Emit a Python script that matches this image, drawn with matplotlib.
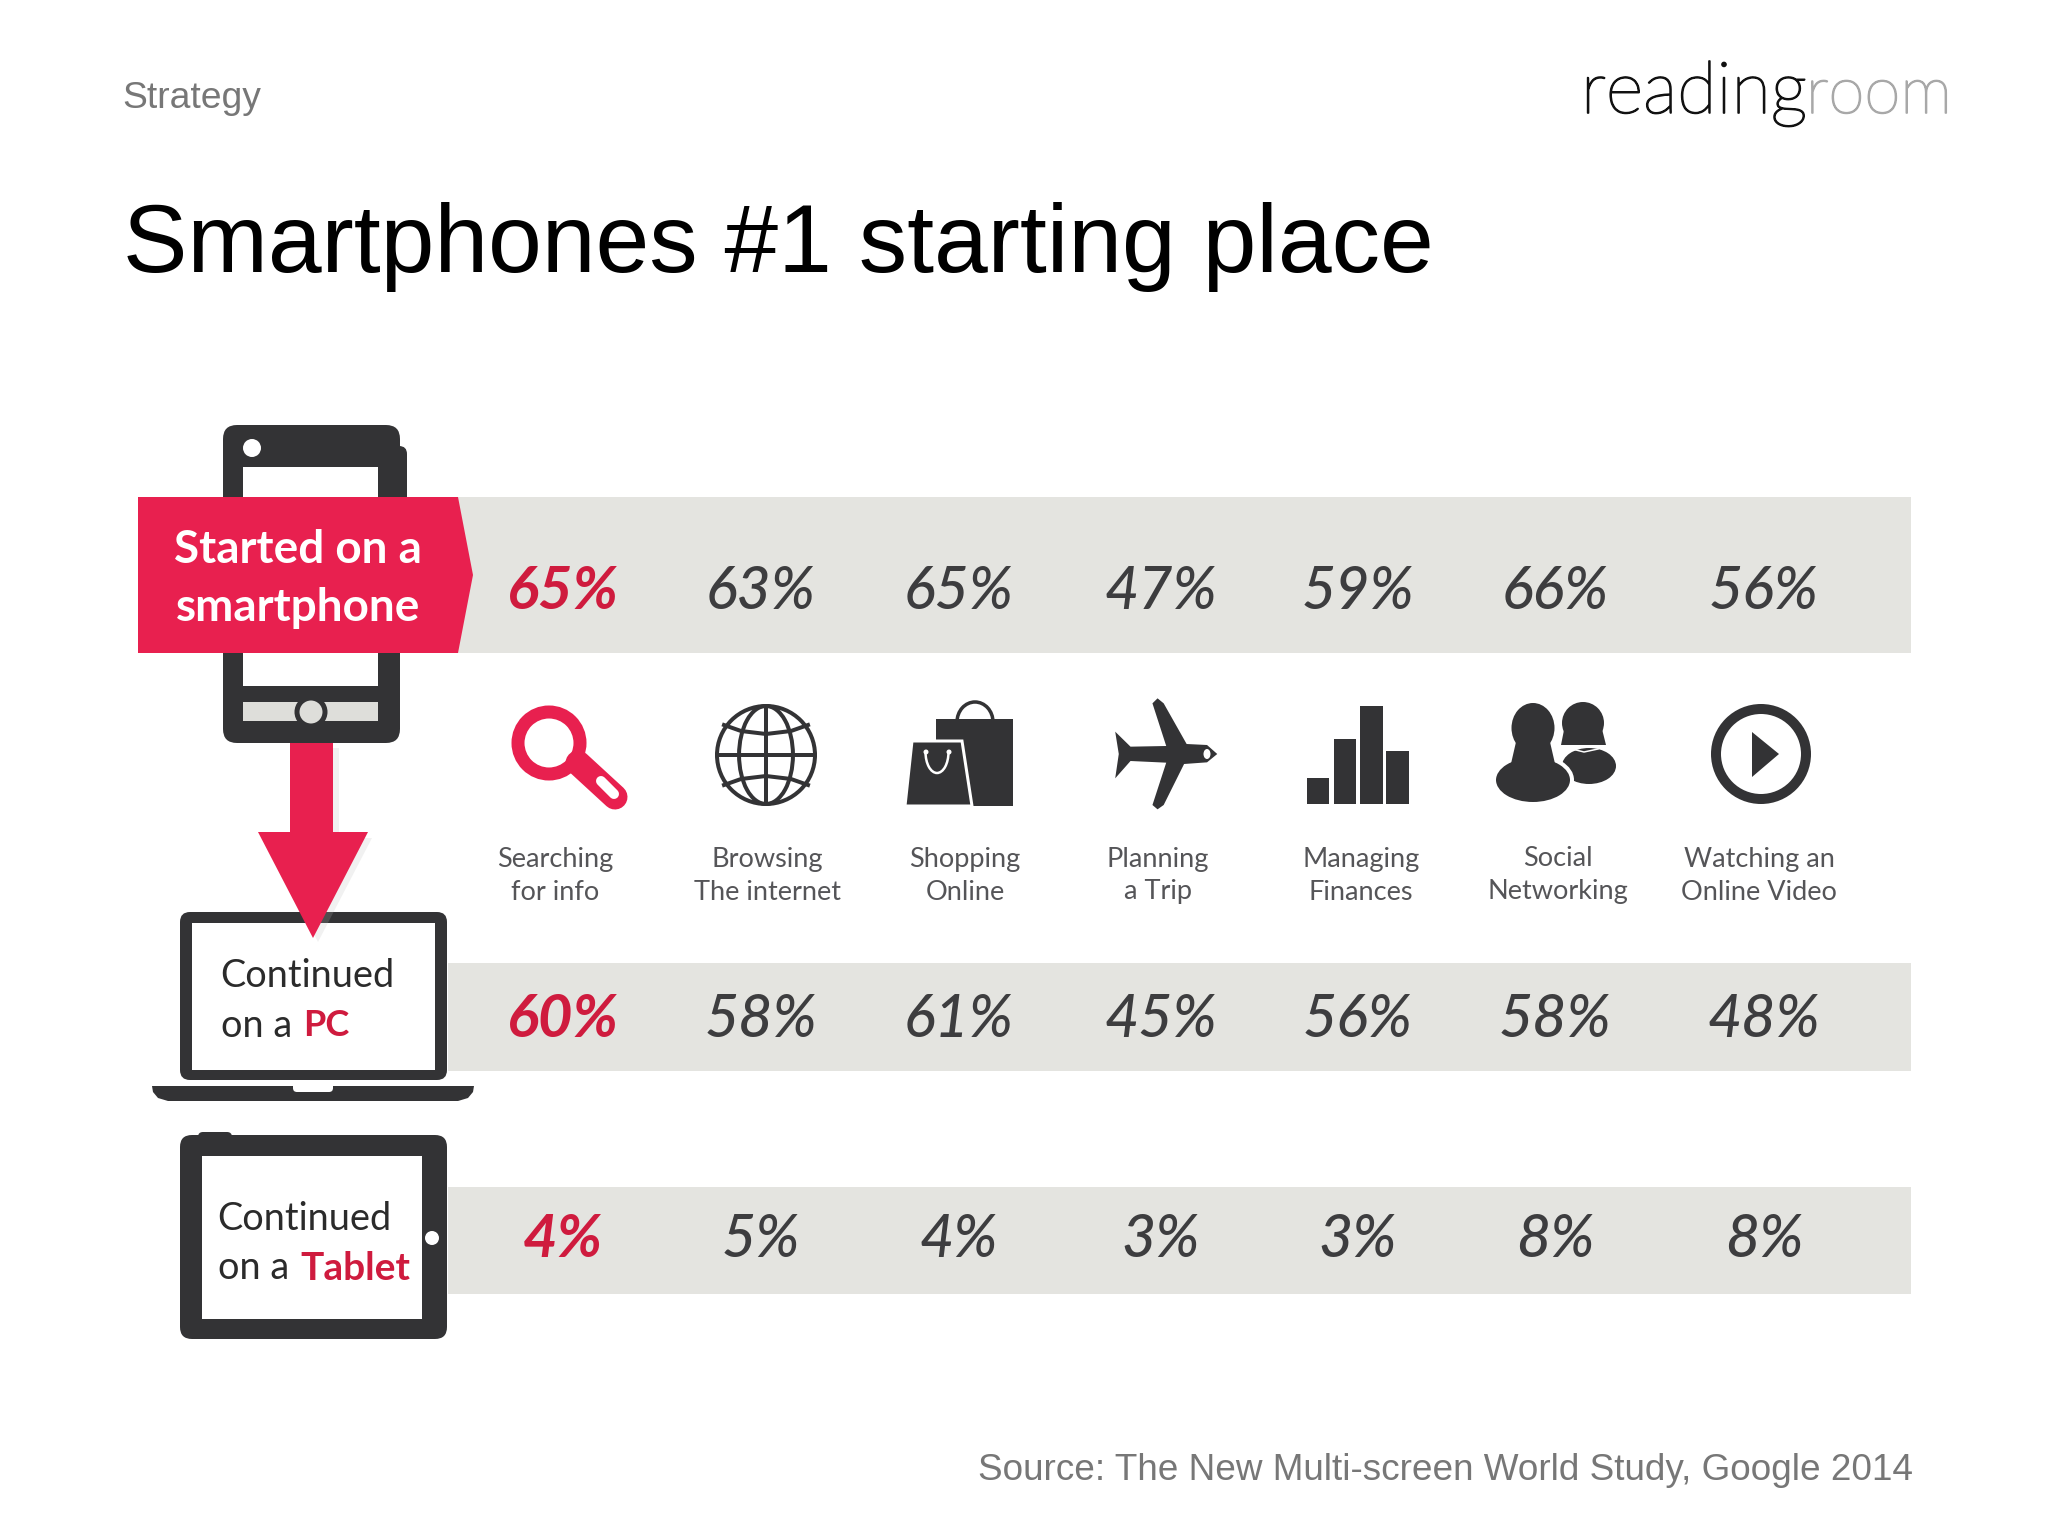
import matplotlib
matplotlib.use('Agg')
import matplotlib.pyplot as plt
import matplotlib.patheffects as pe
import numpy as np
from matplotlib.patches import Circle, Ellipse, Arc, Polygon, Rectangle, FancyBboxPatch

# values
activities = ['Searching\nfor info', 'Browsing\nThe internet', 'Shopping\nOnline', 'Planning\na Trip',
              'Managing\nFinances', 'Social\nNetworking', 'Watching an\nOnline Video']
smartphone = [65, 63, 65, 47, 59, 66, 56]
pc = [60, 58, 61, 45, 56, 58, 48]
tablet = [4, 5, 4, 3, 3, 8, 8]
bar_icon_heights = [26, 65, 98, 53]

value_x = [563, 761, 959, 1161, 1358, 1555, 1764]
label_x = [555, 767, 965, 1158, 1361, 1558, 1759]

DARK = '#333335'
RED = '#e8204f'
TEXT_RED = '#cf1b3e'
BAND = '#e4e4e0'
GREY = '#777777'

fig = plt.figure(figsize=(20.48, 15.36), dpi=100, facecolor='white')
ax = fig.add_axes([0, 0, 1, 1])
ax.set_xlim(0, 2048)
ax.set_ylim(1536, 0)
ax.axis('off')


def px(v):
    # sizes below are worked out in image pixels
    return v * 0.72


def rbox(x0, y0, x1, y1, r, color, z=2):
    ax.add_patch(FancyBboxPatch((x0 + r, y0 + r), x1 - x0 - 2 * r, y1 - y0 - 2 * r,
                                boxstyle='round,pad=%f' % r, fc=color, ec='none', zorder=z))


# header
ax.text(122, 98, 'Strategy', family='Liberation Sans', fontsize=26.8, color=GREY, va='center')
ax.text(123, 247, 'Smartphones #1 starting place', family='Liberation Sans', fontsize=69.6, color='black', va='center')
ax.text(1913, 1470, 'Source: The New Multi-screen World Study, Google 2014', family='Liberation Sans',
        fontsize=26.6, color=GREY, ha='right', va='center')
ax.text(1581, 113, 'reading', family='Lato', weight='light', fontsize=52, color='#111111', va='baseline',
        path_effects=[pe.withStroke(linewidth=1.2, foreground='#111111')])
ax.text(1806, 113, 'room', family='Lato', weight='light', fontsize=47, color='#a8a8a8', va='baseline',
        path_effects=[pe.withStroke(linewidth=1.2, foreground='#a8a8a8')])

# bands
ax.add_patch(Rectangle((450, 497), 1461, 156, fc=BAND, ec='none', zorder=1))
ax.add_patch(Rectangle((448, 963), 1463, 108, fc=BAND, ec='none', zorder=1))
ax.add_patch(Rectangle((448, 1187), 1463, 107, fc=BAND, ec='none', zorder=1))

# percentages
for row, y in [(smartphone, 592), (pc, 1020), (tablet, 1240)]:
    for i, (v, x) in enumerate(zip(row, value_x)):
        if i == 0:
            ax.text(x, y, '%d%%' % v, family='Lato', style='italic', weight='bold', fontsize=43,
                    color=TEXT_RED, ha='center', va='center', zorder=5)
        else:
            ax.text(x, y, '%d%%' % v, family='Lato', style='italic', weight='medium', fontsize=42.5,
                    color='#3d3d3f', ha='center', va='center', zorder=5)

# activity labels
for lab, x in zip(activities, label_x):
    a, b = lab.split('\n')
    ax.text(x, 859, a, family='Lato', fontsize=19.5, color='#555558', ha='center', va='center')
    ax.text(x, 892, b, family='Lato', fontsize=19.5, color='#555558', ha='center', va='center')

# phone
rbox(385, 446, 407, 520, 8, DARK)
rbox(223, 425, 400, 743, 14, DARK)
ax.add_patch(Rectangle((243, 467), 135, 219, fc='white', ec='none', zorder=3))
ax.add_patch(Circle((252, 448), 9, fc='white', ec='none', zorder=3))
ax.add_patch(Rectangle((243, 702), 135, 19, fc='#dededa', ec='none', zorder=3))
ax.add_patch(Circle((311, 712), 14, fc='#dededa', ec=DARK, lw=px(5), zorder=4))

# banner
ax.add_patch(Polygon([(138, 497), (458, 497), (473, 575), (458, 653), (138, 653)], fc=RED, ec='none', zorder=4))
ax.text(298, 550, 'Started on a', family='Lato', weight='bold', fontsize=33, color='white',
        ha='center', va='center', zorder=5)
ax.text(298, 608, 'smartphone', family='Lato', weight='bold', fontsize=33, color='white',
        ha='center', va='center', zorder=5)

# laptop
rbox(180, 912, 447, 1080, 10, DARK)
ax.add_patch(Rectangle((192, 923), 243, 147, fc='white', ec='none', zorder=3))
ax.add_patch(Polygon([(152, 1086), (474, 1086), (473, 1092), (468, 1098), (458, 1101), (168, 1101), (158, 1098),
                      (153, 1092)], fc=DARK, ec='none', zorder=2))
rbox(293, 1082, 333, 1092, 4, 'white', z=3)
ax.text(220, 976, 'Continued', family='Lato', fontsize=27.3, color='#2b2b2b', va='center', zorder=5)
ax.text(221, 1026, 'on a', family='Lato', fontsize=27.3, color='#2b2b2b', va='center', zorder=5)
ax.text(303, 1026, 'PC', family='Lato', weight='bold', fontsize=26, color=TEXT_RED, va='center', zorder=5)

# arrow, on top of phone and laptop
ax.add_patch(Polygon([(296, 748), (339, 748), (339, 838), (372, 838), (318, 942), (264, 838), (296, 838)],
                     fc='#bbbbbb', ec='none', alpha=0.2, zorder=5))
ax.add_patch(Polygon([(290, 743), (333, 743), (333, 832), (368, 832), (313, 938), (258, 832), (290, 832)],
                     fc=RED, ec='none', zorder=6))

# tablet
rbox(198, 1132, 232, 1150, 5, DARK)
rbox(180, 1135, 447, 1339, 12, DARK)
ax.add_patch(Rectangle((202, 1156), 220, 163, fc='white', ec='none', zorder=3))
ax.add_patch(Circle((432, 1238), 7, fc='white', ec='none', zorder=3))
ax.text(217, 1219, 'Continued', family='Lato', fontsize=27.3, color='#2b2b2b', va='center', zorder=5)
ax.text(218, 1268, 'on a', family='Lato', fontsize=27.3, color='#2b2b2b', va='center', zorder=5)
ax.text(300, 1268, 'Tablet', family='Lato', weight='bold', fontsize=28, color=TEXT_RED, va='center', zorder=5)

# magnifier icon
ax.add_patch(Circle((549, 743), 31, fc='none', ec=RED, lw=px(13), zorder=3))
ax.plot([578, 615], [763, 797], color=RED, lw=px(25), solid_capstyle='round', zorder=2)
ax.plot([601, 614], [781, 794], color='white', lw=px(10), solid_capstyle='round', zorder=3)

# globe icon
gx, gy, gr = 766, 755, 49
line = dict(fc='none', ec=DARK, lw=px(4), zorder=3)
ax.add_patch(Circle((gx, gy), gr, **line))
ax.add_patch(Ellipse((gx, gy), gr * 1.1, gr * 2, **line))
ax.plot([gx, gx], [gy - gr, gy + gr], color=DARK, lw=px(4))
ax.plot([gx - gr, gx + gr], [gy, gy], color=DARK, lw=px(4))
arc_dx = [-42, -25, 0, 25, 42]
arc_dy = [30, 24, 21, 24, 30]
ax.plot([gx + d for d in arc_dx], [gy - d for d in arc_dy], color=DARK, lw=px(4))
ax.plot([gx + d for d in arc_dx], [gy + d for d in arc_dy], color=DARK, lw=px(4))

# shopping bags icon
ax.add_patch(Rectangle((936, 719), 77, 87, fc=DARK, ec='none', zorder=2))
ax.add_patch(Arc((975, 722), 36, 40, theta1=180, theta2=360, ec=DARK, lw=px(3.5), zorder=2))
ax.add_patch(Polygon([(912, 741), (962, 741), (972, 806), (905, 806)], fc=DARK, ec='white', lw=px(3), zorder=3))
ax.add_patch(Arc((937, 752), 23, 42, theta1=0, theta2=180, ec='white', lw=px(2.5), zorder=4))
ax.add_patch(Circle((926, 752), 2.5, fc='white', ec='none', zorder=4))
ax.add_patch(Circle((949, 752), 2.5, fc='white', ec='none', zorder=4))

# plane icon
plane = [(1245, 155), (1275, 200), (1345, 198), (1318, 70), (1328, 55), (1340, 70), (1385, 192), (1425, 195),
         (1445, 222), (1425, 247), (1380, 252), (1340, 375), (1328, 388), (1318, 375), (1345, 248), (1275, 243),
         (1245, 295), (1252, 222)]
ax.add_patch(Polygon([(x / 1.96 + 480, y / 3 + 680) for x, y in plane], fc=DARK, ec='none', zorder=2))
ax.add_patch(Ellipse((1207, 754), 7, 10, fc='white', ec='none', zorder=3))

# bar chart icon
ax.bar([1318, 1345, 1371.5, 1397.5], bar_icon_heights, width=22.5, bottom=[804 - h for h in bar_icon_heights],
       color=DARK, zorder=2)

# people icon
ax.add_patch(Ellipse((1583, 723), 42, 42, fc=DARK, ec='none', zorder=2))
ax.add_patch(Polygon([(1565, 725), (1601, 725), (1606, 745), (1561, 745)], fc=DARK, ec='none', zorder=2))
ax.add_patch(Ellipse((1589, 766), 54, 36, fc=DARK, ec='none', zorder=2))
ax.plot([1572, 1584, 1598], [749, 752, 749], color='white', lw=px(1.5), zorder=3)
ax.add_patch(Ellipse((1533, 780), 78, 48, fc=DARK, ec='white', lw=px(4), zorder=3))
ax.add_patch(Polygon([(1516, 742), (1550, 742), (1556, 768), (1510, 768)], fc=DARK, ec='none', zorder=4))
ax.add_patch(Ellipse((1533, 728), 43, 50, fc=DARK, ec='none', zorder=4))

# play icon
ax.add_patch(Circle((1761, 754), 45, fc='none', ec=DARK, lw=px(10), zorder=2))
ax.add_patch(Polygon([(1752, 732), (1779, 754), (1752, 777)], fc=DARK, ec='none', zorder=2))

fig.savefig('out.png', dpi=100, facecolor='white')
